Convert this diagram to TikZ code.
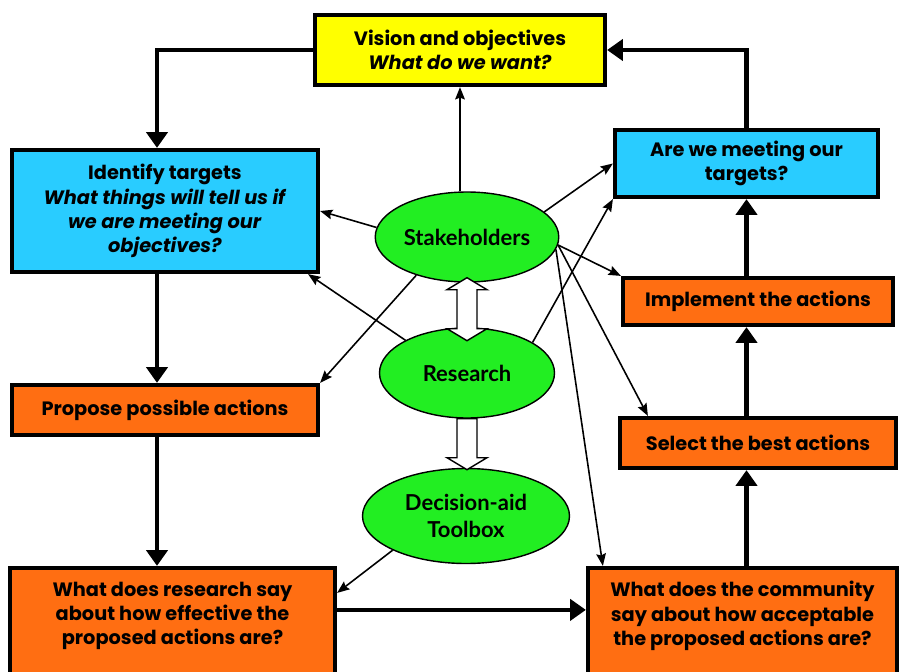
\documentclass[tikz,border=0pt]{standalone}
\usepackage{fontspec}
\setmainfont{Poppins}
\newfontfamily\ellfont{Lato}
\usetikzlibrary{arrows.meta,shapes.geometric}

\definecolor{visyellow}{HTML}{FFFF00}
\definecolor{tgtcyan}{HTML}{29CCFF}
\definecolor{actorange}{HTML}{FF6E12}
\definecolor{ellgreen}{HTML}{22EE22}

\begin{document}
\begin{tikzpicture}[
  x=0.2mm, y=-0.2mm,
  font=\fontsize{11}{13.8}\selectfont\bfseries,
  box/.style={draw, line width=2.4pt, align=center, inner sep=2pt},
  ell/.style={ellipse, draw, line width=0.8pt, fill=ellgreen, align=center,
    inner sep=1pt, font=\ellfont\fontsize{12.5}{15.5}\selectfont\bfseries},
  flow/.style={-{Triangle[length=9pt,width=12pt]}, line width=2.3pt},
  link/.style={-{Stealth[length=7pt,width=5.5pt,inset=1pt]}, line width=0.9pt},
  blk/.style={draw, line width=0.8pt, fill=white, line join=miter}
]
\clip (0,0) rectangle (900,672);
\fill[white] (0,0) rectangle (900,672);

% ── Top: vision ──
\node[box, fill=visyellow, minimum width=58mm, minimum height=14mm] (vision) at (460,50)
  {Vision and objectives\\\textit{What do we want?}};

% ── Left column ──
\node[box, fill=tgtcyan, minimum width=61.2mm, minimum height=24.4mm] (ident) at (165,211)
  {Identify targets\\\textit{What things will tell us if}\\\textit{we are meeting our}\\\textit{objectives?}};
\node[box, fill=actorange, minimum width=61.2mm, minimum height=10mm] (prop) at (165,410)
  {Propose possible actions};
\node[box, fill=actorange, minimum width=65mm, minimum height=26.4mm,
  label={[align=center, yshift=3.6mm]center:What does research say\\about how effective the\\proposed actions are?}]
  (ressay) at (172.5,634) {};

% ── Right column ──
\node[box, fill=tgtcyan, minimum width=52.6mm, minimum height=13.4mm] (meet) at (746.5,163.5)
  {Are we meeting our\\targets?};
\node[box, fill=actorange, minimum width=54mm, minimum height=9.4mm] (impl) at (758,301.5)
  {Implement the actions};
\node[box, fill=actorange, minimum width=55.2mm, minimum height=10mm] (select) at (758,443)
  {Select the best actions};
\node[box, fill=actorange, minimum width=61.8mm, minimum height=26.4mm,
  label={[align=center, yshift=3.6mm]center:What does the community\\say about how acceptable\\the proposed actions are?}]
  (commun) at (742.5,634) {};

% ── Centre: ellipses ──
\node[ell, minimum width=35mm, minimum height=18mm] (stake) at (467,237) {Stakeholders};
\node[ell, minimum width=35mm, minimum height=18mm] (research) at (467,373) {Research};
\node[ell, minimum width=41.4mm, minimum height=19mm] (toolbox) at (466,516) {Decision-aid\\Toolbox};

% block arrows
\draw[blk] (stake.south) ++(0,-5) -- ++(20,12) -- ++(-10,0) -- ++(0,39) -- ++(10,0)
  -- ++(-20,12) -- ++(-20,-12) -- ++(10,0) -- ++(0,-39) -- ++(-10,0) -- cycle;
\draw[blk] (research.south) ++(-10,0) -- ++(20,0) -- ++(0,39) -- ++(10,0)
  -- ++(-20,12) -- ++(-20,-12) -- ++(10,0) -- cycle;

% ── Main loop ──
\draw[flow] (vision.west) -| ([xshift=-1.6mm]ident.north);
\draw[flow] ([xshift=-1.6mm]ident.south) -- ([xshift=-1.6mm]prop.north);
\draw[flow] ([xshift=-1.6mm]prop.south) -- ([xshift=-1.6mm]prop.south |- ressay.north);
\draw[flow] ([yshift=-8.8mm]ressay.north east) coordinate (h) -- (h -| commun.west);
\draw[flow] (commun.north -| meet.south) -- (select.south -| meet.south);
\draw[flow] (select.north -| meet.south) -- (impl.south -| meet.south);
\draw[flow] (impl.north -| meet.south) -- (meet.south);
\draw[flow] (meet.north) |- (vision.east);

% ── Stakeholder / research links ──
\draw[link] (vision.south |- stake.north) -- (vision.south);
\draw[link] (stake.174) -- (ident.east);
\draw[link] (stake.217) -- (prop.north east);
\draw[link] (research.152) -- ([xshift=-2.4mm]ident.south east);
\draw[link] (stake.18) -- (meet.west);
\draw[link] (research.25) -- (meet.south west);
\draw[link] (stake.-5) -- (impl.north west);
\draw[link] (stake.-5) -- ([xshift=6mm]select.north west);
\draw[link] (stake.-8) -- ([xshift=3.4mm]commun.north west);
\draw[link] (toolbox.205) -- ([yshift=-5.4mm]ressay.north east);

\end{tikzpicture}
\end{document}
